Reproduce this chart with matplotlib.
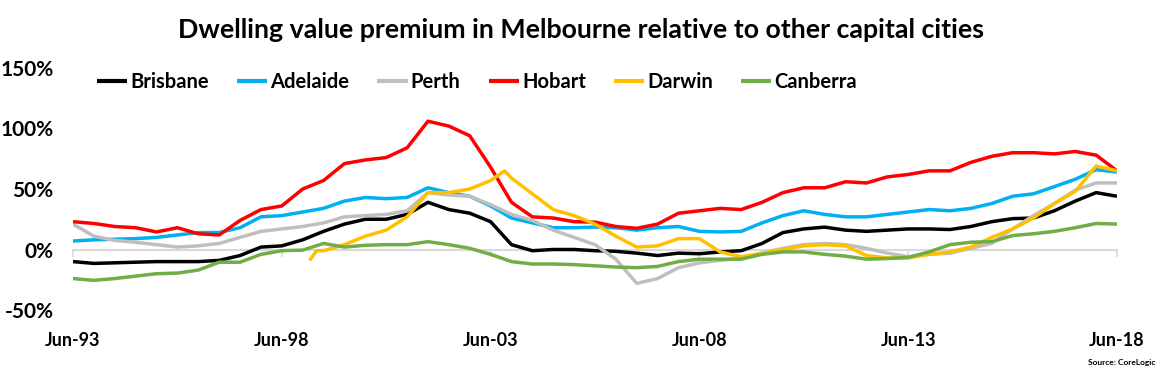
import numpy as np
import matplotlib
matplotlib.use("Agg")
import matplotlib.pyplot as plt

# months since Jun-93, half-yearly observations
months = list(range(0, 301, 6))

brisbane = [-10, -11.5, -11, -10.5, -10, -10, -10, -9, -5, 2, 3, 8, 15, 21, 25, 25, 29, 39, 33, 30,
            23, 4, -1, 0, 0, -1, -1.5, -3, -5, -3, -3.5, -2, -1, 5, 14, 17, 18.5, 16, 15, 16,
            17, 17, 16.5, 19, 23, 25.5, 26, 32, 40, 47, 44]
adelaide = [7, 8, 8.5, 9, 10, 12, 14, 14, 18, 27, 28, 31, 34, 40, 43, 42, 43, 51, 47, 44,
            36, 26, 22, 18, 18, 18.5, 18, 16, 18, 19, 15, 14.5, 15, 22, 28, 32, 29, 27, 27, 29,
            31, 33, 32, 34, 38, 44, 46, 52, 58, 66, 64]
perth = [21, 11, 7.5, 6, 4, 2, 3, 5, 10, 15, 17, 19, 22, 27, 28, 29, 32, 47, 45, 44,
         37, 29, 24, 16, 10, 4, -8, -28, -24, -15, -11, -9, -7, -3, 1, 4, 5, 4, 1, -3,
         -6, -4, -3, 1, 5, 17, 28, 38, 49, 55, 55]
hobart = [23, 21.5, 19, 18, 14.5, 18, 13, 12, 24, 33, 36, 50, 57, 71, 74, 76, 84, 106, 102, 94,
          68, 39, 27, 26, 23, 22.6, 19, 17.5, 21, 30, 32, 34, 33, 39, 47, 51, 51, 56, 55, 60,
          62, 65, 65, 72, 77, 80, 80, 79, 81, 78, 65]
canberra = [-24, -25.5, -24, -22, -20, -19.5, -17, -10.5, -10.5, -4, -1, -0.5, 5, 2, 3.5, 4, 4, 6.5, 4, 1,
            -4, -10, -12, -12, -12.5, -13.5, -14.5, -15, -14, -10, -8, -8, -8, -4, -2, -2, -4, -5.5, -8, -7.5,
            -6.5, -2, 4, 6, 6.5, 11.5, 13, 15, 18, 21.5, 21]

darwin_months = [68, 70, 72, 78, 84, 90, 96, 102, 108, 114, 120, 124, 126, 132, 138, 144, 150, 156,
                 162, 168, 174, 180, 186, 192, 198, 204, 210, 216, 222, 228, 234, 240, 246, 252,
                 258, 264, 270, 276, 282, 288, 294, 300]
darwin = [-9, -1, -1, 4, 11, 16, 27, 47, 47, 50, 57, 65, 59, 46, 33, 28, 21, 11,
          2, 3, 9, 9, -2, -6, -3, 0, 3, 4, 3, -5, -7, -7, -4, -2,
          2, 10, 17, 26, 38, 48, 69, 65]

tick_months = [0, 60, 120, 180, 240, 300]
tick_labels = ["Jun-93", "Jun-98", "Jun-03", "Jun-08", "Jun-13", "Jun-18"]
y_ticks = [-50, 0, 50, 100, 150]

plt.rcParams['font.family'] = ['Lato', 'DejaVu Sans']
plt.rcParams['font.weight'] = 'bold'

fig = plt.figure(figsize=(11.6, 3.8), dpi=100)
ax = fig.add_axes([73/1160, 1-310/380, (1117-73)/1160, (310-68)/380])

series = [
    ("Brisbane", months, brisbane, "#000000"),
    ("Adelaide", months, adelaide, "#00B0F0"),
    ("Perth", months, perth, "#BFBFBF"),
    ("Hobart", months, hobart, "#FF0000"),
    ("Darwin", darwin_months, darwin, "#FFC000"),
    ("Canberra", months, canberra, "#70AD47"),
]
for name, xs, ys, c in series:
    ax.plot(xs, ys, color=c, lw=2.5, label=name, solid_capstyle='butt')

ax.set_xlim(0, 300)
ax.set_ylim(-50, 150)
ax.set_yticks(y_ticks)
ax.set_yticklabels([f"{v}%" for v in y_ticks], fontsize=15, fontweight='bold')
ax.set_xticks(tick_months)
ax.set_xticklabels(tick_labels, fontsize=13, fontweight='bold')
ax.tick_params(axis='y', length=0, pad=14)
ax.tick_params(axis='x', length=0, pad=16)
for s in ax.spines.values():
    s.set_visible(False)

sec = ax.secondary_xaxis(0.25)
sec.set_xticks(tick_months)
sec.set_xticklabels([])
sec.tick_params(axis='x', length=5, width=1.2, color="#D9D9D9", direction='out')
sec.spines['bottom'].set_color("#D9D9D9")
sec.spines['bottom'].set_linewidth(1.5)
for k in ['top', 'left', 'right']:
    sec.spines[k].set_visible(False)

leg = ax.legend(loc='center left', bbox_to_anchor=((97-73)/1044, (310-82)/242), ncol=6, frameon=False,
                fontsize=14.5, handlelength=1.5, handletextpad=0.15, columnspacing=1.4,
                borderaxespad=0, borderpad=0)
for t in leg.get_texts():
    t.set_fontweight('bold')
for l in leg.get_lines():
    l.set_linewidth(3)

fig.text(581/1160, 1-30/380, "Dwelling value premium in Melbourne relative to other capital cities",
         ha='center', va='center', fontsize=19.3, fontweight='bold')
fig.text(1155/1160, 1-362/380, "Source: CoreLogic", ha='right', va='center', fontsize=6, fontweight='bold')

fig.savefig("out.png", dpi=100)
